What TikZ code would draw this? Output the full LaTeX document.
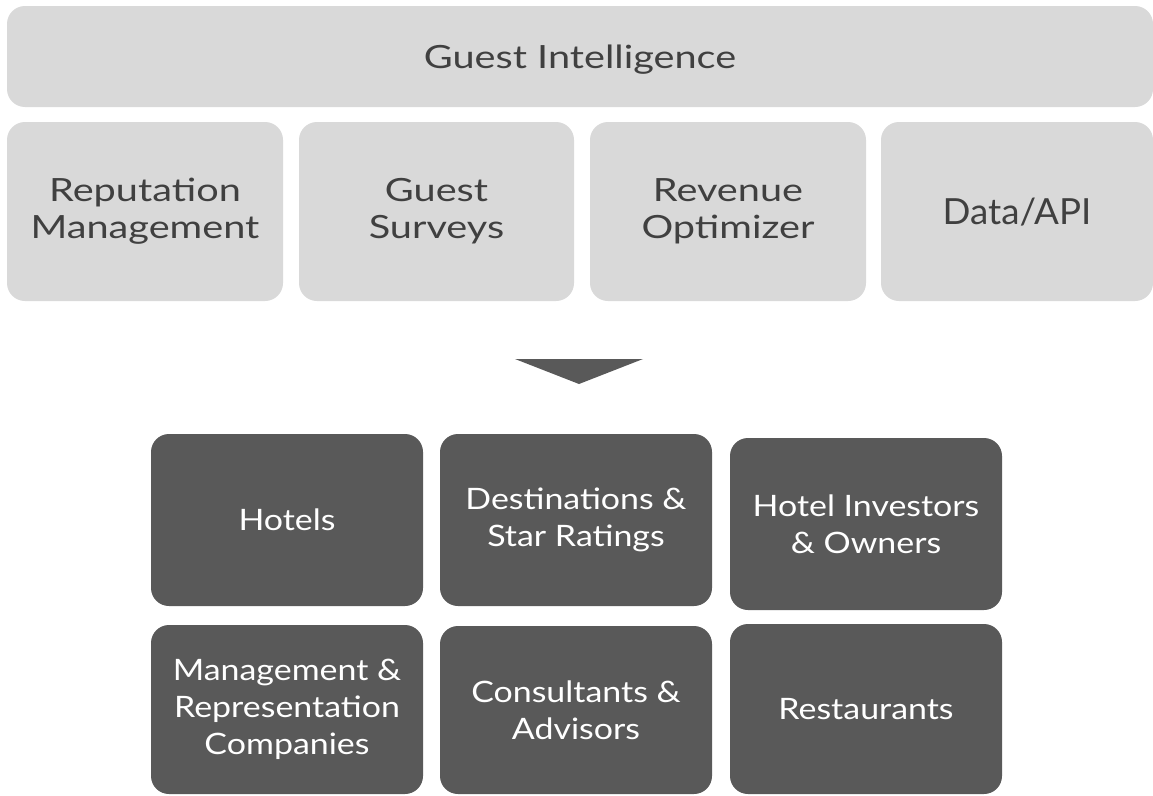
\documentclass[tikz,border=0pt]{standalone}
\usepackage{fontspec}
\setmainfont{Lato}
\newfontfamily\topfont[FakeStretch=1.24]{Lato}
\newfontfamily\apifont[FakeStretch=1.02]{Lato}
\newfontfamily\botfont[FakeStretch=1.15]{Lato}
\definecolor{lightbox}{HTML}{D9D9D9}
\definecolor{darkbox}{HTML}{595959}
\definecolor{lighttext}{HTML}{404040}
\begin{document}
\begin{tikzpicture}[x=1pt,y=-1pt,
  lightstyle/.style={rectangle, rounded corners=18pt, fill=lightbox, draw=none,
    inner sep=0pt, align=center, text=lighttext,
    font=\topfont\fontsize{32}{37}\selectfont},
  darkstyle/.style={rectangle, rounded corners=18pt, fill=darkbox, draw=none,
    inner sep=0pt, align=center, text=white,
    minimum width=272pt,
    font=\botfont\fontsize{29.5}{37}\selectfont},
  oneline/.style={text depth=0pt},
  arrowshape/.style={fill=darkbox, draw=none}]
\useasboundingbox (0,0) rectangle (1153,795);
\fill[white] (0,0) rectangle (1153,795);
% top bar
\node[lightstyle, oneline, minimum width=1146pt, minimum height=101pt] (gi) at (580,56.5) {Guest Intelligence};
% second row
\node[lightstyle, minimum width=276pt, minimum height=179pt] (rep) at (145,211.5) {Reputation\\Management};
\node[lightstyle, minimum width=275pt, minimum height=179pt] (gs) at (436.5,211.5) {Guest\\Surveys};
\node[lightstyle, minimum width=276pt, minimum height=179pt] (ro) at (728,211.5) {Revenue\\Optimizer};
\node[lightstyle, oneline, minimum width=272pt, minimum height=179pt, font=\apifont\fontsize{36}{37}\selectfont] (api) at (1017,211.5) {Data/API};
% arrow
\coordinate (al) at (515,359);
\coordinate (ar) at (643,359);
\coordinate (at) at (579,384);
\fill[arrowshape] (al) -- (ar) -- (at) -- cycle;
% bottom boxes
\node[darkstyle, oneline, minimum height=172pt] (hotels) at (287,520) {Hotels};
\node[darkstyle, minimum height=172pt] (dest) at (576,520) {Destinations \&\\Star Ratings};
\node[darkstyle, minimum height=172pt] (inv) at (866,524) {Hotel Investors\\\& Owners};
\node[darkstyle, minimum height=169pt] (mgmt) at (287,709.5) {Management \&\\Representation\\Companies};
\node[darkstyle, minimum height=168pt] (cons) at (576,710) {Consultants \&\\Advisors};
\node[darkstyle, oneline, minimum height=170pt] (rest) at (866,709) {Restaurants};
\end{tikzpicture}
\end{document}
